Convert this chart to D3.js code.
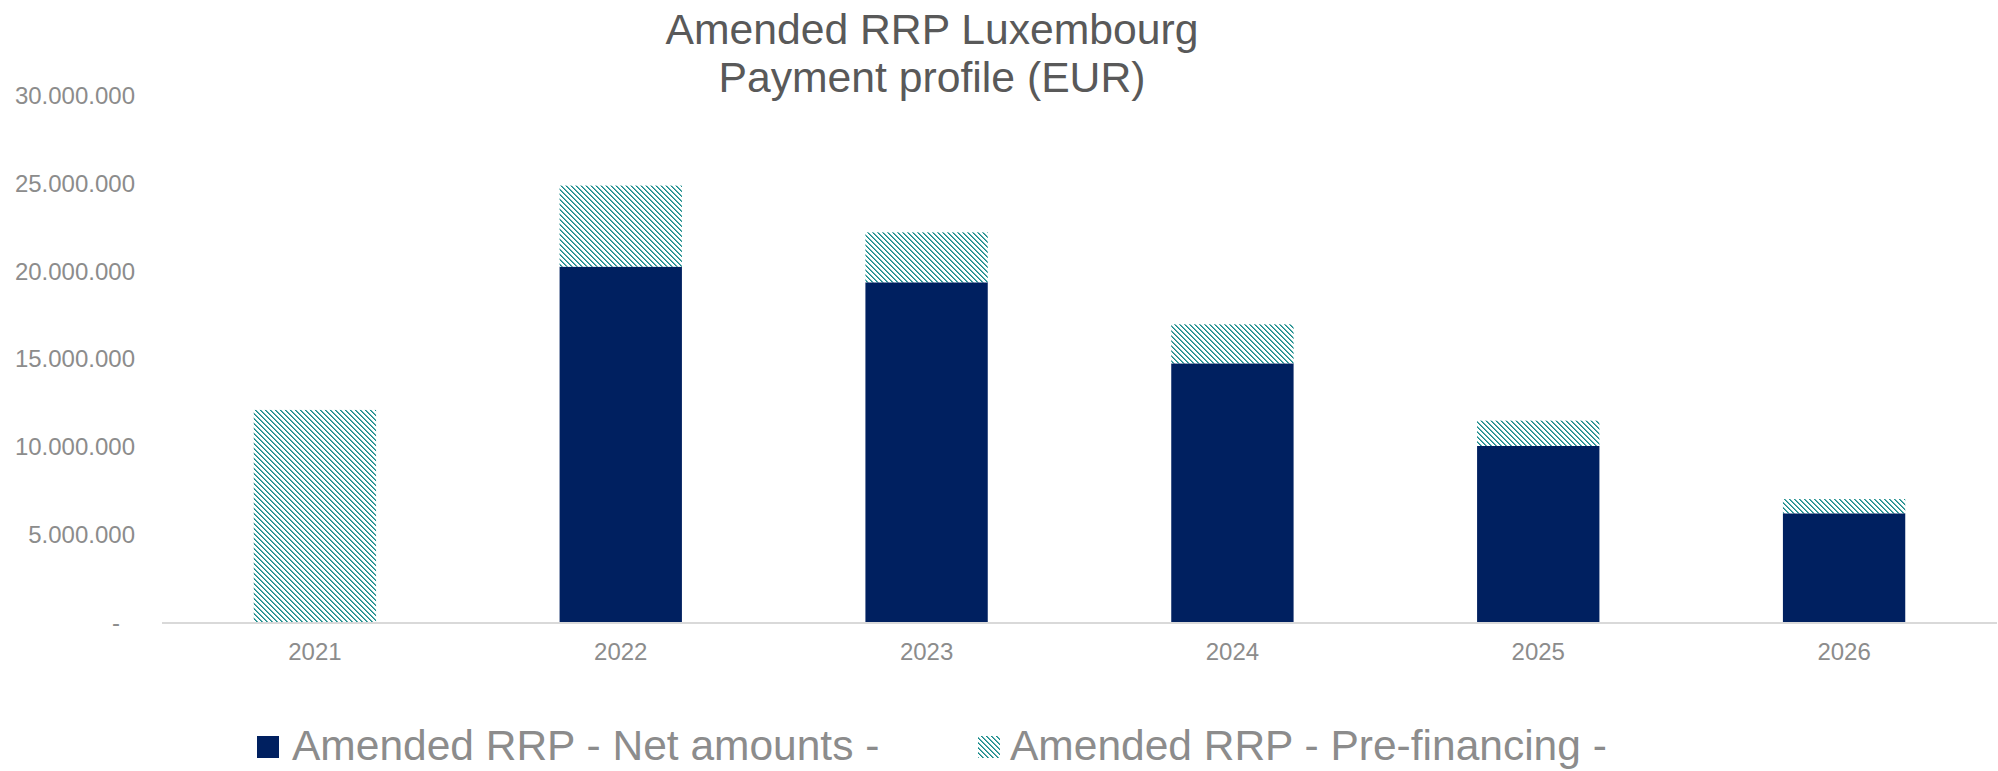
<!DOCTYPE html>
<html><head><meta charset="utf-8">
<script src="https://cdn.jsdelivr.net/npm/d3@7"></script>
<style>body{margin:0;background:#fff;} text{font-family:"Liberation Sans",Arial,sans-serif;}</style>
</head><body><svg id="chart" width="1998" height="771"></svg>
<script>
const years = ["2021","2022","2023","2024","2025","2026"];
const netAmounts = [0, 20270000, 19380000, 14770000, 10070000, 6240000];
const preFinancing = [12120000, 4610000, 2840000, 2220000, 1440000, 810000];
const yTicks = [0, 5000000, 10000000, 15000000, 20000000, 25000000, 30000000];
const titleLines = ["Amended RRP Luxembourg", "Payment profile (EUR)"];
const seriesNames = ["Amended RRP - Net amounts -", "Amended RRP - Pre-financing -"];

(function () {
const svg = d3.select("#chart");
const mLeft = 162, mRight = 1997, mTop = 95.6, mBottom = 623;
const netColor = "#002060", hatchColor = "#178a8a", textGray = "#8c8c8c";

// pattern
const defs = svg.append("defs");
const pat = defs.append("pattern").attr("id","hatch").attr("patternUnits","userSpaceOnUse")
  .attr("width",5).attr("height",5);
pat.append("rect").attr("width",5).attr("height",5).attr("fill","#fff");
for (let i = 0; i < 5; i++) {
  pat.append("rect").attr("x",i).attr("y",i).attr("width",1.7).attr("height",1).attr("fill",hatchColor);
}
pat.append("rect").attr("x",0).attr("y",4).attr("width",0.7).attr("height",1).attr("fill",hatchColor);

const x = d3.scaleBand().domain(years).range([mLeft, mRight]).paddingInner(0.6).paddingOuter(0.3);
const y = d3.scaleLinear().domain([0, 30000000]).range([mBottom, mTop]);

const loc = d3.formatLocale({decimal: ",", thousands: ".", grouping: [3], currency: ["", ""]});
const fmt = loc.format(",d");

// title
svg.append("g").selectAll("text").data(titleLines).join("text")
  .attr("x", 932).attr("y", (d, i) => 44 + i * 48)
  .attr("text-anchor", "middle").attr("font-size", 42.7).attr("fill", "#595959").text(d => d);

// y axis
const yAxis = svg.append("g").attr("transform", `translate(${mLeft},0)`)
  .call(d3.axisLeft(y).tickValues(yTicks).tickSize(0).tickPadding(27).tickFormat(d => d === 0 ? "-" : fmt(d)));
yAxis.select(".domain").remove();
yAxis.selectAll("text").attr("font-size", 24).attr("fill", textGray).attr("font-family", "Liberation Sans, Arial, sans-serif")
  .attr("dx", d => d === 0 ? -15 : 0);

// bars
const data = years.map((yr, i) => ({yr, net: netAmounts[i], pre: preFinancing[i]}));
svg.append("g").selectAll("rect").data(data.filter(d => d.net > 0)).join("rect")
  .attr("x", d => x(d.yr)).attr("width", x.bandwidth())
  .attr("y", d => y(d.net)).attr("height", d => y(0) - y(d.net))
  .attr("fill", netColor);
svg.append("g").selectAll("rect").data(data).join("rect")
  .attr("x", d => x(d.yr)).attr("width", x.bandwidth())
  .attr("y", d => y(d.net + d.pre)).attr("height", d => y(d.net) - y(d.net + d.pre))
  .attr("fill", "url(#hatch)");

// x axis
svg.append("line").attr("x1", mLeft).attr("x2", mRight).attr("y1", mBottom).attr("y2", mBottom)
  .attr("stroke", "#d9d9d9").attr("stroke-width", 2);
const xAxis = svg.append("g").attr("transform", `translate(0,${mBottom})`)
  .call(d3.axisBottom(x).tickSize(0).tickPadding(20));
xAxis.select(".domain").remove();
xAxis.selectAll("text").attr("font-size", 24).attr("fill", textGray).attr("font-family", "Liberation Sans, Arial, sans-serif");

// legend
const legendItems = [
  {name: seriesNames[0], fill: netColor, mx: 257, tx: 292},
  {name: seriesNames[1], fill: "url(#hatch)", mx: 978, tx: 1010}
];
const lg = svg.append("g").selectAll("g").data(legendItems).join("g");
lg.append("rect").attr("x", d => d.mx).attr("y", 736).attr("width", 22).attr("height", 22).attr("fill", d => d.fill);
lg.append("text").attr("x", d => d.tx).attr("y", 745).attr("dy", "0.35em")
  .attr("font-size", 42.5).attr("fill", textGray).text(d => d.name);
})();
</script></body></html>
